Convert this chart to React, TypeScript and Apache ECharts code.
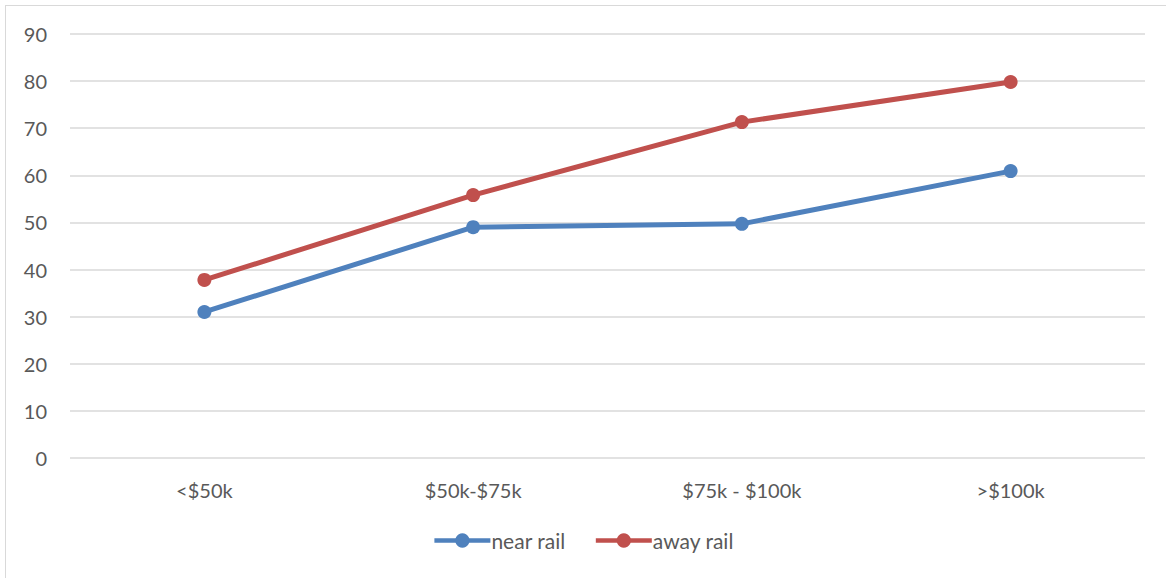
import React, { useEffect, useRef } from "react";
import * as echarts from "echarts";

const categories = ["<$50k", "$50k-$75k", "$75k - $100k", ">$100k"];
const nearRail = [31, 49, 49.7, 60.9];
const awayRail = [37.8, 55.8, 71.3, 79.8];

export default function App() {
  const ref = useRef<HTMLDivElement>(null);
  useEffect(() => {
    const chart = echarts.init(ref.current!, undefined, { renderer: "svg" });
    const font = "Lato, 'Open Sans', sans-serif";
    chart.setOption({
      animation: false,
      backgroundColor: "#ffffff",
      grid: { left: 70, right: 21, top: 34, bottom: 120, containLabel: false },
      legend: {
        bottom: 22,
        left: "center",
        itemWidth: 56,
        itemHeight: 18,
        itemGap: 28,
        lineStyle: { width: 4.5 },
        textStyle: { color: "#595959", fontSize: 21, fontFamily: font, padding: [0, 0, 0, -4] },
        data: ["near rail", "away rail"],
      },
      xAxis: {
        type: "category",
        data: categories,
        boundaryGap: true,
        axisLine: { show: false },
        axisTick: { show: false },
        axisLabel: { color: "#595959", fontSize: 20, fontFamily: font, margin: 22 },
      },
      yAxis: {
        type: "value",
        min: 0,
        max: 90,
        interval: 10,
        axisLine: { show: false },
        axisTick: { show: false },
        axisLabel: { color: "#595959", fontSize: 20, fontFamily: font, margin: 23 },
        splitLine: { lineStyle: { color: "#d9d9d9", width: 1.5 } },
      },
      series: [
        {
          name: "near rail",
          type: "line",
          data: nearRail,
          color: "#4f81bd",
          lineStyle: { width: 5, color: "#4f81bd" },
          symbol: "circle",
          symbolSize: 14,
          itemStyle: { color: "#4f81bd" },
        },
        {
          name: "away rail",
          type: "line",
          data: awayRail,
          color: "#c0504d",
          lineStyle: { width: 5, color: "#c0504d" },
          symbol: "circle",
          symbolSize: 14,
          itemStyle: { color: "#c0504d" },
        },
      ],
    });
    return () => chart.dispose();
  }, []);
  return (
    <div style={{ position: "fixed", left: 0, top: 0, width: 1166, height: 578, background: "#fff" }}>
      <div ref={ref} style={{ position: "absolute", left: 0, top: 0, width: 1166, height: 578 }} />
      <div
        style={{
          position: "absolute",
          left: 5,
          top: 5,
          width: 1200,
          height: 600,
          border: "1.5px solid #d9d9d9",
          pointerEvents: "none",
        }}
      />
    </div>
  );
}
